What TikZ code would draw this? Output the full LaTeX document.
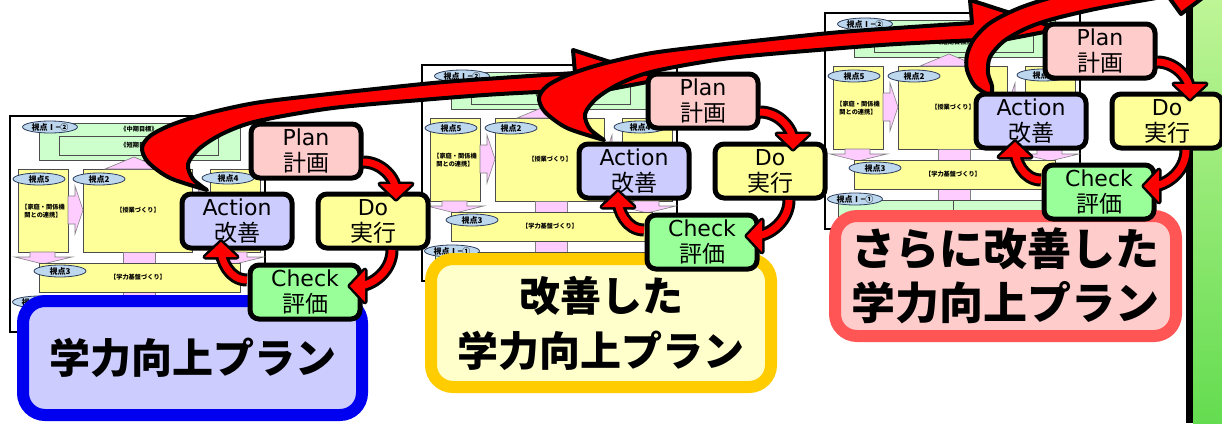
\documentclass[tikz,border=0pt]{standalone}
\usepackage{fontspec}
\setmainfont{DejaVu Sans}
\newfontfamily\jp{Noto Sans CJK JP}
\usetikzlibrary{calc,shapes.geometric}

\definecolor{planc}{HTML}{FFCCCC}
\definecolor{doyel}{HTML}{FFFF99}
\definecolor{checkc}{HTML}{99FF99}
\definecolor{actc}{HTML}{CCCCFF}
\definecolor{dgreen}{HTML}{CCFFCC}
\definecolor{dyel}{HTML}{FFFF99}
\definecolor{dpink}{HTML}{FFCCFF}
\definecolor{dblue}{HTML}{BDD7EE}
\definecolor{ellline}{HTML}{2F3F5F}
\definecolor{lblue}{HTML}{0000F0}
\definecolor{lgold}{HTML}{FFCC00}
\definecolor{lred}{HTML}{FF5555}
\definecolor{lab1fill}{HTML}{CCCCFF}
\definecolor{lab2fill}{HTML}{FFFFCC}
\definecolor{lab3fill}{HTML}{FFCCCC}
\definecolor{barTop}{RGB}{190,245,150}
\definecolor{barBot}{RGB}{100,220,80}

\newcommand\pdcafont{\fontsize{22}{26}\selectfont}
\newcommand\kanji[1]{{\jp\fontsize{23}{26}\selectfont #1}}
\newcommand\labfont{\jp\bfseries\fontsize{41}{55}\selectfont}
\newcommand\labfontb{\jp\bfseries\fontsize{44}{54}\selectfont}
\newcommand\docfont{\jp\bfseries\fontsize{6.2}{7.5}\selectfont}
\newcommand\ellfont{\jp\bfseries\fontsize{8}{8}\selectfont}

\tikzset{
 pdca/.style={draw=black, line width=5pt, rounded corners=9pt, minimum width=110pt, minimum height=54pt, inner sep=0pt, align=center, font=\pdcafont},
 planbox/.style={pdca, fill=planc},
 dobox/.style={pdca, fill=doyel},
 actbox/.style={pdca, fill=actc},
 chkbox/.style={pdca, fill=checkc},
 biglabel/.style={rounded corners=22pt, line width=12pt, inner sep=0pt, align=center},
 bigarrow/.style={fill=red, draw=black, line width=4pt, line join=round},
 docframe/.style={draw=black, line width=2.5pt, fill=white},
 docline/.style={draw=black!70, line width=0.7pt},
 pinkarr/.style={draw=black!50, line width=0.6pt, fill=dpink},
 ell/.style={ellipse, draw=ellline, fill=dblue, line width=0.8pt, minimum width=52pt, minimum height=12pt, inner sep=0pt, font=\ellfont},
 doctext/.style={font=\docfont, inner sep=0pt, align=center},
}

% document thumbnail: #1 id, #2 #3 top-left
\newcommand\docthumb[3]{%
\begin{scope}[shift={(#2,#3)}]
 \draw[docframe] (0,0) rectangle (255,216);
 \draw[docline, fill=dgreen] (29,7) rectangle (230,44);
 \draw[docline, fill=dgreen] (49,20) rectangle (208,39);
 \node[doctext] (#1mid) at (129,13) {《中期目標》};
 \node[doctext] (#1short) at (129,29) {《短期目標》};
 \draw[docline, fill=dyel] (8,53) rectangle (58,136);
 \draw[docline, fill=dyel] (73,53) rectangle (182,136);
 \draw[docline, fill=dyel] (200,53) rectangle (250,136);
 \draw[pinkarr] (95,53) -- (124,41) -- (153,53) -- cycle;
 \draw[pinkarr] (58,80) -- (65,80) -- (65,70) -- (73,94) -- (65,118) -- (65,108) -- (58,108) -- cycle;
 \draw[pinkarr] (200,80) -- (190,80) -- (190,70) -- (182,94) -- (190,118) -- (190,108) -- (200,108) -- cycle;
 \draw[pinkarr] (20,136) -- (45,136) -- (45,141) -- (62,141) -- (33,148) -- (5,141) -- (20,141) -- cycle;
 \draw[pinkarr] (212,136) -- (237,136) -- (237,141) -- (254,141) -- (225,148) -- (197,141) -- (212,141) -- cycle;
 \draw[pinkarr] (113,136) rectangle (145,147);
 \draw[pinkarr] (113,176) rectangle (145,187);
 \draw[docline, fill=dyel] (29,147) rectangle (230,176);
 \draw[docline, fill=dgreen] (13,187) rectangle (242,213);
 \draw[docline] (128,187) -- (128,213);
 \node[doctext] (#1base) at (128,161) {【学力基盤づくり】};
 \node[doctext] (#1home) at (33,95) {【家庭・関係機\\関との連携】};
 \node[doctext] (#1class) at (128,94) {【授業づくり】};
 \node[ell, minimum width=55pt] (#1v12) at (40,11) {視点Ⅰ−②};
 \node[ell] (#1v5) at (29,63) {視点5};
 \node[ell] (#1v2) at (89,63) {視点2};
 \node[ell] (#1v4) at (218,62) {視点4};
 \node[ell] (#1v3) at (50,155) {視点3};
 \node[ell, minimum width=55pt] (#1v11) at (30,186) {視点Ⅰ−①};
\end{scope}}

% PDCA boxes: #1 id, #2 #3 shift
\newcommand\pdcanodes[3]{%
\begin{scope}[shift={(#2,#3)}]
 \node[planbox] (#1p) at (306,151) {Plan\\\kanji{計画}};
 \node[dobox] (#1d) at (373,221) {Do\\\kanji{実行}};
 \node[actbox] (#1a) at (237,221) {Action\\\kanji{改善}};
 \node[chkbox] (#1c) at (305,292) {Check\\\kanji{評価}};
\end{scope}}

% cycle arrow: from node #1 offset #2, out #3, in #4, to node #5 offset #6, head angle #7
\newcommand\cyclearrow[7]{%
 \coordinate (cas) at ($(#1.center)+(#2)$);
 \coordinate (cat) at ($(#5.center)+(#6)$);
 \coordinate (cal) at ($(cat)+(#7+180:15pt)+(#7+90:16pt)$);
 \coordinate (car) at ($(cat)+(#7+180:15pt)+(#7-90:16pt)$);
 \draw[line width=13pt, black, shorten >=8pt] (cas) to[out=#3,in=#4] (cat);
 \filldraw[black, line width=5pt, line join=round] (cat) -- (cal) -- (car) -- cycle;
 \draw[line width=7pt, red, shorten >=8pt] (cas) to[out=#3,in=#4] (cat);
 \fill[red] (cat) -- (cal) -- (car) -- cycle;
}
\newcommand\cyclearrows[1]{%
 \cyclearrow{#1p}{57,11}{0}{90}{#1d}{23,-22}{-90}
 \cyclearrow{#1d}{19,29}{-90}{0}{#1c}{45,-6}{180}
 \cyclearrow{#1c}{-58,-12}{180}{-90}{#1a}{-16,21}{90}
}

\newcommand\bigarrowA{%
\filldraw[bigarrow] plot[smooth] coordinates {(207,190) (170,178) (148,162) (142,148) (150,136) (171,125) (205,114) (255,103) (320,95) (433,83) (500,78) (575,73)}
 -- (573,50) -- (663,79) -- (590,93) -- (580,90)
 -- plot[smooth] coordinates {(580,90) (500,94) (433,99) (333,108) (258,121) (224,133) (200,148) (188,164) (193,179) (207,190)} -- cycle;}

\begin{document}
\begin{tikzpicture}[x=1pt,y=-1pt]
\useasboundingbox (0,0) rectangle (1222,423);
\clip (0,0) rectangle (1222,423);
\fill[white] (0,0) rectangle (1222,423);
% right bar
\shade[top color=barTop, bottom color=barBot] (1193,0) rectangle (1222,423);
\fill[black] (1186,0) rectangle (1193,423);
% documents
\docthumb{a}{10}{116}
\docthumb{b}{422}{65}
\docthumb{c}{825}{13}
% big arrows
\bigarrowA
\begin{scope}[shift={(397,-50)}]\bigarrowA\end{scope}
\filldraw[bigarrow] plot[smooth] coordinates {(992,97) (975,86) (967,70) (967,55) (974,39) (990,23) (1017,9) (1050,-2) (1100,-13) (1160,-23)}
 -- (1155,-50) -- (1240,-30) -- (1181,14) -- (1168,-4)
 -- plot[smooth] coordinates {(1168,-4) (1100,8) (1053,19) (1027,28) (1004,41) (990,57) (988,73) (992,86) (992,97)} -- cycle;
% labels
\node[biglabel, draw=lblue, fill=lab1fill, minimum width=339pt, minimum height=114pt, font=\labfont] (lab1) at (192.5,358) {学力向上プラン};
\node[biglabel, draw=lgold, fill=lab2fill, minimum width=340pt, minimum height=128pt, font=\labfont] (lab2) at (601,323) {改善した\\学力向上プラン};
\node[biglabel, draw=lred, fill=lab3fill, minimum width=341pt, minimum height=120pt, font=\labfontb] (lab3) at (1005.5,276) {さらに改善した\\学力向上プラン};
% PDCA
\pdcanodes{k}{0}{0}
\pdcanodes{m}{397}{-50}
\pdcanodes{n}{794}{-100}
\cyclearrows{k}
\cyclearrows{m}
\cyclearrows{n}
\end{tikzpicture}
\end{document}
